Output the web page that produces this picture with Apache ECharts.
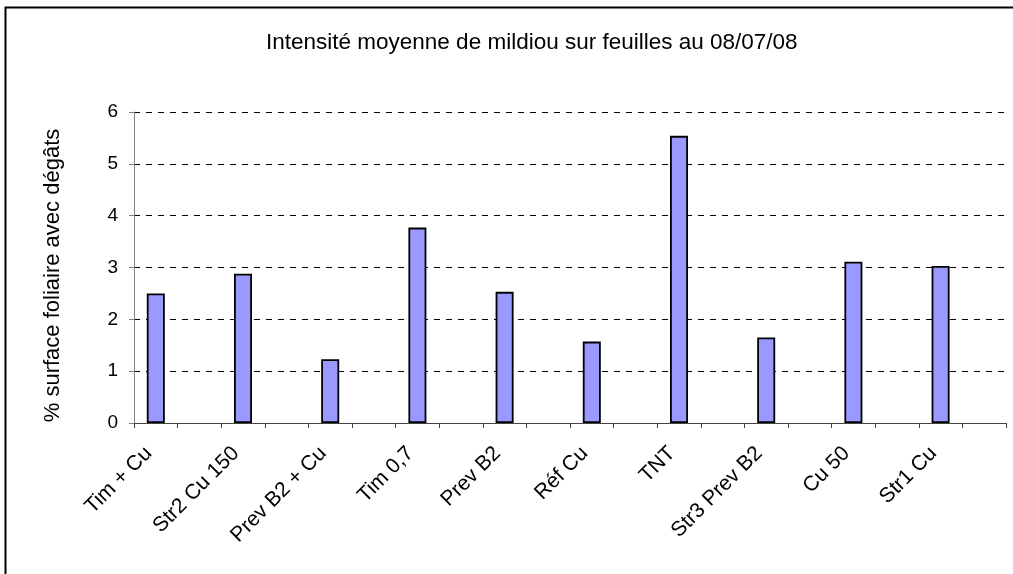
<!DOCTYPE html>
<html>
<head>
<meta charset="utf-8">
<script src="https://cdn.jsdelivr.net/npm/echarts@6/dist/echarts.min.js"></script>
<style>
  html, body { margin: 0; padding: 0; background: #fff; }
  #chart { width: 1013px; height: 574px; }
</style>
</head>
<body>
<div id="chart"></div>
<script>
  // traitements (un sur deux dans l'axe, comme dans le classeur d'origine)
  var treatments = ['Tim + Cu', 'Str2 Cu 150', 'Prev B2 + Cu', 'Tim 0,7', 'Prev B2',
    'Réf Cu', 'TNT', 'Str3 Prev B2', 'Cu 50', 'Str1 Cu']
  var intensity = [2.50, 2.88, 1.23, 3.77, 2.53, 1.57, 5.54, 1.65, 3.11, 3.03]
  var yTicks = [0, 1, 2, 3, 4, 5, 6]

  // colonnes vides intercalées
  var categories = []
  var values = []
  treatments.forEach(function (name, i) {
    categories.push(name, '')
    values.push(intensity[i], null)
  })

  var chart = echarts.init(document.getElementById('chart'))
  var font = 'Liberation Sans, Arial, sans-serif'

  chart.setOption({
    animation: false,
    backgroundColor: '#fff',
    title: {
      text: 'Intensité moyenne de mildiou sur feuilles au 08/07/08',
      left: 261,
      top: 26,
      textStyle: {
        fontFamily: font,
        fontSize: 22.5,
        fontWeight: 'normal',
        color: '#000'
      }
    },
    graphic: [{
      type: 'rect',
      shape: { x: 5.5, y: 7.5, width: 1100, height: 700 },
      style: { fill: 'none', stroke: '#000', lineWidth: 2 },
      silent: true
    }],
    grid: {
      left: 134,
      right: 7,
      top: 112,
      bottom: 151
    },
    xAxis: {
      type: 'category',
      data: categories,
      boundaryGap: true,
      axisLine: { lineStyle: { color: '#444', width: 1 } },
      axisTick: {
        show: true,
        interval: 0,
        length: 5,
        lineStyle: { color: '#444' }
      },
      axisLabel: {
        interval: 0,
        rotate: 45,
        margin: 20,
        padding: [0, 10, 0, 0],
        fontFamily: font,
        fontSize: 21,
        color: '#000'
      }
    },
    yAxis: {
      type: 'value',
      min: yTicks[0],
      max: yTicks[yTicks.length - 1],
      interval: 1,
      name: '% surface foliaire avec dégâts',
      nameLocation: 'middle',
      nameGap: 70,
      nameTextStyle: {
        fontFamily: font,
        fontSize: 22,
        color: '#000',
        padding: [0, 16, 0, 0]
      },
      axisLine: { show: true, lineStyle: { color: '#808080', width: 1 } },
      axisTick: { show: true, length: 5, lineStyle: { color: '#808080' } },
      axisLabel: {
        margin: 16,
        fontFamily: font,
        fontSize: 19,
        color: '#000'
      },
      splitLine: {
        show: true,
        lineStyle: { color: '#000', type: [6, 6], width: 1 }
      }
    },
    series: [{
      type: 'bar',
      data: values,
      barWidth: 18,
      itemStyle: {
        color: '#9999FF',
        borderColor: '#000',
        borderWidth: 1.8
      }
    }]
  })
</script>
</body>
</html>
